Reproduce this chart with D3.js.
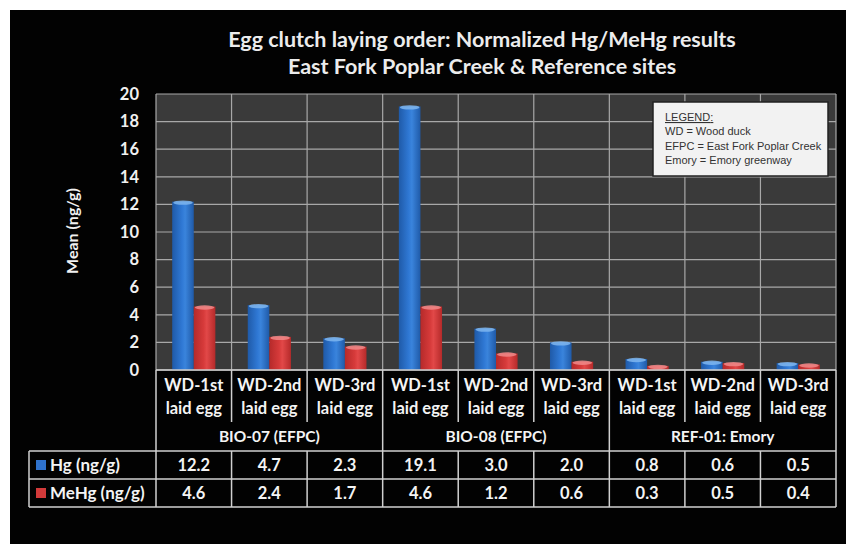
<!DOCTYPE html>
<html><head><meta charset="utf-8">
<script src="https://cdn.jsdelivr.net/npm/d3@7"></script>
<style>
html,body{margin:0;padding:0;background:#fff;}
svg{display:block;}
text{font-family:"Lato","Open Sans",sans-serif;}
</style></head>
<body>
<svg id="c" width="846" height="544"></svg>
<script>
// ---- data ----
const titleLines = ["Egg clutch laying order: Normalized Hg/MeHg results", "East Fork Poplar Creek & Reference sites"];
const eggLine1 = ["WD-1st","WD-2nd","WD-3rd","WD-1st","WD-2nd","WD-3rd","WD-1st","WD-2nd","WD-3rd"];
const eggLine2 = ["laid egg","laid egg","laid egg","laid egg","laid egg","laid egg","laid egg","laid egg","laid egg"];
const groups = ["BIO-07 (EFPC)","BIO-08 (EFPC)","REF-01: Emory"];
const seriesNames = ["Hg (ng/g)","MeHg (ng/g)"];
const hg   = [12.2, 4.7, 2.3, 19.1, 3.0, 2.0, 0.8, 0.6, 0.5];
const mehg = [4.6, 2.4, 1.7, 4.6, 1.2, 0.6, 0.3, 0.5, 0.4];
const yTicks = [0,2,4,6,8,10,12,14,16,18,20];
const yLabel = "Mean (ng/g)";
const legendLines = ["WD = Wood duck","EFPC = East Fork Poplar Creek","Emory = Emory greenway"];

// ---- layout ----
const svg = d3.select("#c");
const L = 156, R = 836, T = 94, B = 370;
const gridCol = "#a8a8a8", lineCol = "#d0d0d0";

svg.append("rect").attr("x",10).attr("y",10).attr("width",836).attr("height",534).attr("fill","#020202");

const defs = svg.append("defs");
function cyl(id, edge, mid, light){
  const g = defs.append("linearGradient").attr("id",id).attr("x1","0").attr("x2","1").attr("y1","0").attr("y2","0");
  g.append("stop").attr("offset","0%").attr("stop-color",edge);
  g.append("stop").attr("offset","45%").attr("stop-color",mid);
  g.append("stop").attr("offset","60%").attr("stop-color",light);
  g.append("stop").attr("offset","100%").attr("stop-color",edge);
}
cyl("gb","#1f5aa8","#2f78d4","#3a84dc");
cyl("gr","#b52a2a","#d63a3a","#e24848");
const colors = ["url(#gb)","url(#gr)"];
const caps = ["#7fb6ee","#f08a8a"];
const legendColors = ["#2f72cc","#d23a3a"];

const x = d3.scaleBand().domain(d3.range(eggLine1.length)).range([L,R]).padding(0);
const xs = d3.scaleBand().domain([0,1]).range([0,x.bandwidth()]).paddingInner(0).paddingOuter(0.75);
const y = d3.scaleLinear().domain([0,20]).range([B,T]);

// plot background
svg.append("rect").attr("x",L).attr("y",T).attr("width",R-L).attr("height",B-T).attr("fill","#3a3a3a");

// gridlines
svg.append("g").selectAll("line").data(yTicks).join("line")
  .attr("x1",L).attr("x2",R).attr("y1",d=>y(d)).attr("y2",d=>y(d))
  .attr("stroke",gridCol).attr("stroke-width",1.2);
svg.append("g").selectAll("line").data(d3.range(eggLine1.length+1)).join("line")
  .attr("x1",d=>d<eggLine1.length?x(d):R).attr("x2",d=>d<eggLine1.length?x(d):R)
  .attr("y1",T).attr("y2",B).attr("stroke",gridCol).attr("stroke-width",1.2);

// y axis
const yAxis = svg.append("g").attr("transform",`translate(${L-17},0)`)
  .call(d3.axisLeft(y).tickValues(yTicks).tickSize(0).tickPadding(0).tickFormat(d3.format("d")));
yAxis.select(".domain").remove();
yAxis.selectAll("text").attr("fill","#f0f0f0").attr("font-size","16.5px").attr("font-weight","bold")
  .style("font-family","Lato, sans-serif");

svg.append("text").attr("transform","translate(78,231) rotate(-90)").attr("text-anchor","middle")
  .attr("fill","#f0f0f0").attr("font-size","16px").attr("font-weight","bold").text(yLabel);

// bars
const series = [hg, mehg];
series.forEach((vals, si) => {
  const g = svg.append("g");
  g.selectAll("rect").data(vals).join("rect")
    .attr("x",(d,i)=>x(i)+xs(si)).attr("width",xs.bandwidth())
    .attr("y",d=>y(d)).attr("height",d=>B-y(d)).attr("fill",colors[si]);
  g.selectAll("ellipse").data(vals).join("ellipse")
    .attr("cx",(d,i)=>x(i)+xs(si)+xs.bandwidth()/2).attr("cy",d=>y(d)+1)
    .attr("rx",xs.bandwidth()/2-1).attr("ry",2.2).attr("fill",caps[si]).attr("opacity",0.85);
});

// title
svg.append("g").selectAll("text").data(titleLines).join("text")
  .attr("x",482).attr("y",(d,i)=>47+i*27).attr("text-anchor","middle")
  .attr("fill","#ececec").attr("font-size","21.5px").attr("font-weight","bold").text(d=>d);

// legend box
const lg = svg.append("g");
lg.append("rect").attr("x",653).attr("y",102).attr("width",175).attr("height",74)
  .attr("fill","#f2f2f2").attr("stroke","#222").attr("stroke-width",1.5);
lg.append("text").attr("x",665).attr("y",121).attr("fill","#333").attr("font-size","11px")
  .style("font-family","'Liberation Sans Narrow', 'Liberation Sans', sans-serif")
  .attr("text-decoration","underline").text("LEGEND").append("tspan").attr("text-decoration","none").text(":");
lg.selectAll("text.l").data(legendLines).join("text").attr("class","l")
  .attr("x",665).attr("y",(d,i)=>135+i*14.5).attr("fill","#333").attr("font-size","11px")
  .style("font-family","'Liberation Sans Narrow', 'Liberation Sans', sans-serif").text(d=>d);

// ---- data table ----
const tb = svg.append("g");
const rowCat = 422, rowGrp = 451, rowHg = 479, rowMe = 507, tblL = 29;
const ln = (x1,y1,x2,y2)=>tb.append("line").attr("x1",x1).attr("y1",y1).attr("x2",x2).attr("y2",y2)
  .attr("stroke",lineCol).attr("stroke-width",1.5);
// horizontal lines
ln(L,B,R,B);
ln(tblL,rowGrp,R,rowGrp);
ln(tblL,rowHg,R,rowHg);
ln(tblL,rowMe,R,rowMe);
// vertical lines
const n = eggLine1.length;
d3.range(n+1).forEach(i=>{
  const xx = i<n ? x(i) : R;
  const isGroupEdge = (i%3===0);
  ln(xx, B, xx, isGroupEdge ? rowMe : rowCat);
  if(!isGroupEdge) ln(xx, rowGrp, xx, rowMe);
});
ln(tblL,rowGrp,tblL,rowMe);

const txt = (g, fs)=>g.attr("fill","#f4f4f4").attr("font-weight","bold").attr("font-size",fs).attr("text-anchor","middle");
tb.append("g").selectAll("text").data(eggLine1).join("text").call(txt,"16.5px")
  .attr("x",(d,i)=>x(i)+x.bandwidth()/2).attr("y",391).text(d=>d);
tb.append("g").selectAll("text").data(eggLine2).join("text").call(txt,"16.5px")
  .attr("x",(d,i)=>x(i)+x.bandwidth()/2).attr("y",414).text(d=>d);
tb.append("g").selectAll("text").data(groups).join("text").call(txt,"15.5px")
  .attr("x",(d,i)=>x(i*3)+x.bandwidth()*1.5).attr("y",442).text(d=>d);
const fmt = d3.format(".1f");
[hg, mehg].forEach((vals,si)=>{
  tb.append("g").selectAll("text").data(vals).join("text").call(txt,"16.5px")
    .attr("x",(d,i)=>x(i)+x.bandwidth()/2).attr("y",(si===0?rowGrp:rowHg)+20).text(d=>fmt(d));
  tb.append("rect").attr("x",36).attr("y",(si===0?rowGrp:rowHg)+9).attr("width",10).attr("height",10)
    .attr("fill",legendColors[si]);
  tb.append("text").attr("x",50).attr("y",(si===0?rowGrp:rowHg)+20).attr("fill","#f4f4f4")
    .attr("font-weight","bold").attr("font-size","17px").text(seriesNames[si]);
});
</script>
</body></html>
